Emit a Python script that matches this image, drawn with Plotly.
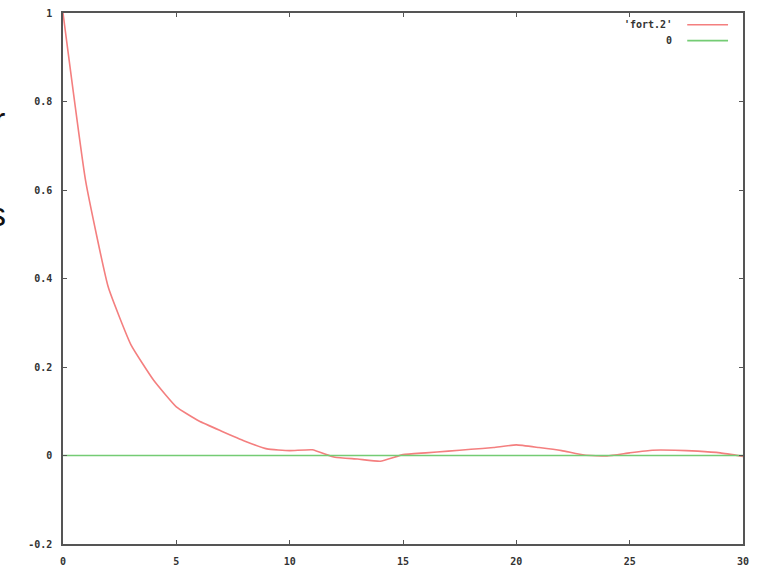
import plotly.graph_objects as go

lag = list(range(0, 31))
fort2 = [1.0, 0.62, 0.38, 0.25, 0.17, 0.11, 0.078, 0.055, 0.033, 0.015,
         0.011, 0.013, -0.004, -0.008, -0.013, 0.002, 0.006, 0.010, 0.014, 0.018,
         0.024, 0.018, 0.011, 0.001, -0.001, 0.006, 0.012, 0.012, 0.010, 0.006,
         -0.002]
zero_line = [0.0] * len(lag)

x_ticks = [0, 5, 10, 15, 20, 25, 30]
x_tick_text = ["0", "5", "10", "15", "20", "25", "30"]
y_ticks = [-0.2, 0, 0.2, 0.4, 0.6, 0.8, 1]
y_tick_text = ["-0.2", "0", "0.2", "0.4", "0.6", "0.8", "1"]

legend_names = ["'fort.2'", "0"]
red = "#f47f7f"
green = "#74cc74"

fig = go.Figure()
fig.add_trace(go.Scatter(x=lag, y=fort2, mode="lines", name=legend_names[0],
                         line=dict(color=red, width=1.6, shape="spline", smoothing=0.4),
                         showlegend=False))
fig.add_trace(go.Scatter(x=lag, y=zero_line, mode="lines", name=legend_names[1],
                         line=dict(color=green, width=1.6), showlegend=False))

tick_font = dict(family="DejaVu Sans Mono", size=10, color="#333333", weight="bold")
axis_common = dict(showgrid=False, zeroline=False, showline=True, linecolor="#555555",
                   linewidth=1.5, mirror="allticks", ticks="inside", ticklen=4,
                   tickcolor="#555555", tickwidth=1, tickfont=tick_font,
                   automargin=False)

fig.update_xaxes(range=[0, 30], tickvals=x_ticks, ticktext=x_tick_text,
                 ticklabelstandoff=7, **axis_common)
fig.update_yaxes(range=[-0.2, 1], tickvals=y_ticks, ticktext=y_tick_text,
                 ticklabelstandoff=7, **axis_common)

# gnuplot-style legend: text on the left, line sample on the right
for i, (name, col) in enumerate(zip(legend_names, [red, green])):
    yp = 0.978 - i * 0.03
    fig.add_annotation(xref="paper", yref="paper", x=0.899, y=yp, text=name,
                       showarrow=False, xanchor="right", yanchor="middle",
                       font=tick_font)
    fig.add_shape(type="line", xref="paper", yref="paper", x0=0.918, x1=0.978,
                  y0=yp, y1=yp, line=dict(color=col, width=1.6))

# clipped text from surrounding page
fig.add_annotation(xref="paper", yref="paper", x=-0.082, y=0.80, text="r",
                   showarrow=False, xanchor="right", yanchor="middle",
                   font=dict(family="Liberation Sans", size=34, color="#111111"))
fig.add_annotation(xref="paper", yref="paper", x=-0.081, y=0.622, text="s",
                   showarrow=False, xanchor="right", yanchor="middle",
                   font=dict(family="Liberation Sans", size=34, color="#111111"))

fig.update_layout(width=765, height=569, plot_bgcolor="white", paper_bgcolor="white",
                  margin=dict(l=63, r=22, t=13, b=25), showlegend=False)

fig.write_html("out.html")
